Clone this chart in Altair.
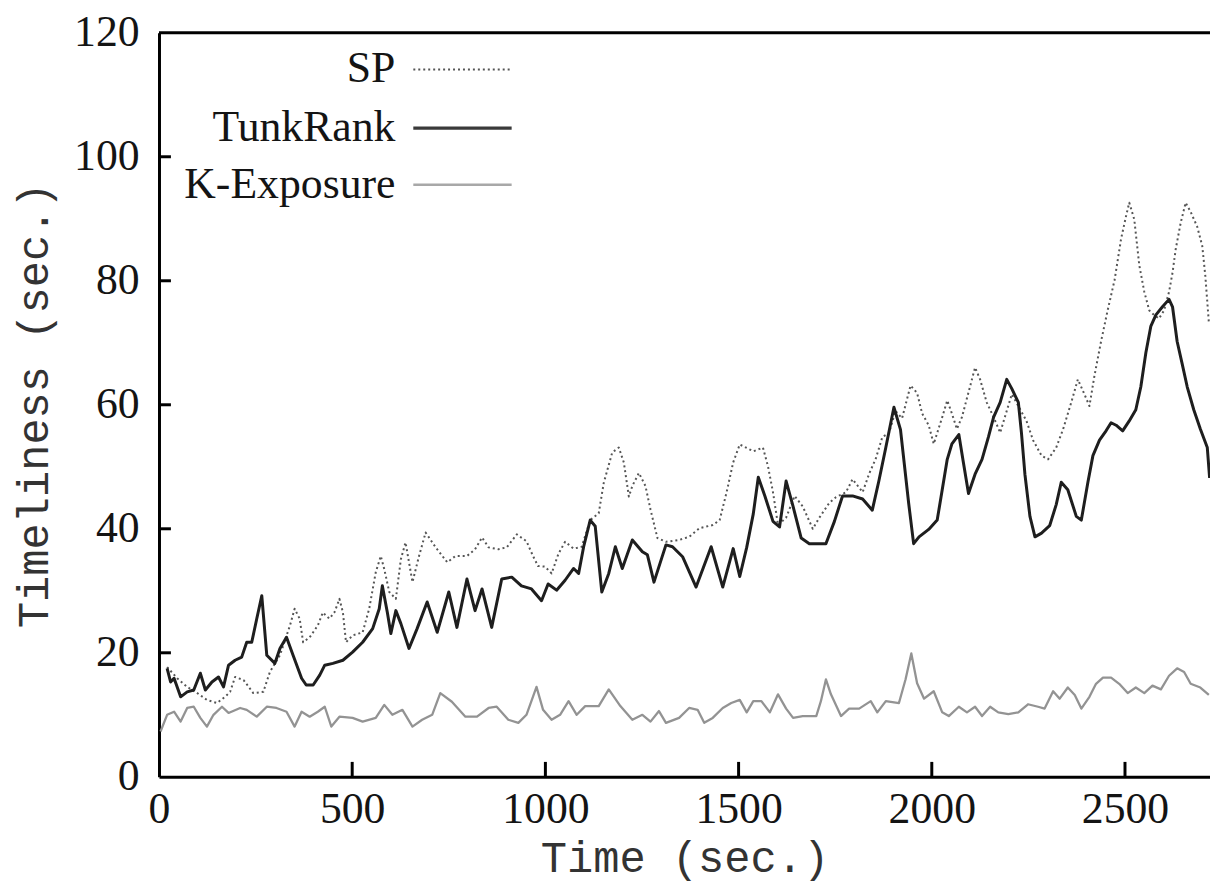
import altair as alt
import pandas as pd

# ---------------- data ----------------
series_names = ["SP", "TunkRank", "K-Exposure"]
x_ticks = [0, 500, 1000, 1500, 2000, 2500]
y_ticks = [0, 20, 40, 60, 80, 100, 120]

tunk_t = [21, 30, 39, 56, 73, 90, 107, 120, 137, 154, 167, 180, 197, 214, 227, 240, 253, 266, 279, 300,
          313, 330, 347, 369, 381, 399, 416, 429, 450, 476, 501, 527, 553, 570, 578, 591, 600, 613, 626, 647,
          668, 694, 720, 750, 771, 797, 818, 836, 861, 887, 913, 938, 964, 990, 1007, 1029, 1051, 1073, 1086, 1099,
          1116, 1129, 1146, 1164, 1181, 1199, 1225, 1251, 1264, 1281, 1312, 1329, 1355, 1390, 1429, 1459, 1486, 1503, 1521, 1538,
          1551, 1568, 1589, 1606, 1623, 1641, 1662, 1683, 1726, 1748, 1769, 1795, 1821, 1846, 1863, 1881, 1902, 1919, 1940, 1953,
          1967, 1992, 2014, 2027, 2040, 2052, 2070, 2082, 2095, 2112, 2130, 2147, 2160, 2177, 2194, 2207, 2224, 2232, 2241, 2254,
          2267, 2284, 2305, 2322, 2335, 2352, 2374, 2387, 2404, 2417, 2434, 2451, 2464, 2477, 2494, 2511, 2528, 2541, 2554, 2567,
          2580, 2597, 2614, 2623, 2635, 2648, 2661, 2678, 2695, 2713, 2719]
tunk_v = [17.5, 15.3, 15.9, 12.9, 13.7, 14.0, 16.7, 14.0, 15.3, 16.1, 14.5, 18.0, 18.8, 19.3, 21.7, 21.7, 25.5, 29.2, 19.6, 18.3,
          20.7, 22.5, 19.6, 15.9, 14.8, 14.8, 16.4, 18.0, 18.3, 18.8, 20.1, 21.7, 23.9, 27.1, 30.8, 26.5, 23.1, 26.8, 24.7, 20.7,
          23.9, 28.2, 23.3, 29.8, 24.1, 31.9, 26.8, 30.3, 24.1, 31.9, 32.2, 30.8, 30.3, 28.4, 31.1, 30.1, 31.7, 33.6, 32.8, 37.1,
          41.4, 40.4, 29.8, 32.8, 37.1, 33.6, 38.2, 36.3, 35.8, 31.4, 37.4, 37.1, 35.5, 30.6, 37.1, 30.6, 36.8, 32.3, 37.0, 42.4,
          48.3, 45.3, 41.2, 40.3, 47.7, 43.6, 38.5, 37.6, 37.6, 41.2, 45.3, 45.3, 44.8, 43.0, 47.7, 53.1, 59.6, 56.0, 44.2, 37.6,
          38.7, 39.9, 41.4, 46.3, 51.2, 53.7, 55.2, 50.6, 45.7, 48.8, 51.2, 54.9, 58.0, 60.4, 64.1, 62.6, 60.4, 55.5, 48.8, 42.0,
          38.7, 39.3, 40.5, 43.9, 47.5, 46.3, 42.0, 41.4, 47.5, 51.8, 54.3, 55.8, 57.1, 56.7, 55.8, 57.4, 59.2, 62.9, 68.4, 72.7,
          74.5, 75.8, 77.0, 75.8, 70.2, 66.6, 62.9, 59.2, 56.1, 53.1, 48.2]

sp_t = [21, 47, 73, 99, 124, 150, 171, 184, 197, 219, 244, 270, 287, 313, 339, 351, 364, 373, 390, 411,
        424, 441, 454, 467, 476, 484, 501, 527, 544, 561, 574, 583, 596, 613, 626, 638, 647, 656, 673, 690,
        716, 746, 767, 797, 818, 836, 853, 878, 900, 926, 951, 968, 981, 999, 1016, 1034, 1051, 1073, 1094, 1116,
        1138, 1151, 1173, 1190, 1203, 1216, 1225, 1242, 1259, 1272, 1290, 1312, 1346, 1372, 1399, 1433, 1451, 1469, 1486, 1503,
        1538, 1563, 1576, 1589, 1602, 1623, 1645, 1666, 1679, 1692, 1709, 1735, 1752, 1778, 1795, 1821, 1838, 1855, 1872, 1889,
        1906, 1923, 1945, 1962, 1975, 1992, 2005, 2027, 2040, 2052, 2065, 2078, 2095, 2112, 2125, 2142, 2160, 2177, 2189, 2207,
        2224, 2245, 2262, 2284, 2301, 2322, 2340, 2361, 2378, 2395, 2408, 2421, 2438, 2455, 2473, 2490, 2503, 2511, 2524, 2537,
        2550, 2563, 2575, 2588, 2601, 2614, 2623, 2631, 2644, 2657, 2670, 2687, 2700, 2708, 2717]
sp_v = [17.7, 15.9, 14.5, 13.5, 12.4, 11.9, 12.9, 13.7, 16.1, 15.6, 13.5, 13.7, 16.9, 19.6, 24.4, 27.1, 25.5, 21.7, 22.5, 24.4,
        26.5, 25.5, 26.5, 28.7, 26.5, 21.7, 22.8, 23.3, 27.1, 33.0, 35.6, 33.5, 29.8, 28.7, 35.1, 37.8, 34.6, 31.4, 35.6, 39.4,
        37.0, 34.6, 35.6, 35.6, 36.7, 38.6, 37.0, 36.7, 37.0, 39.1, 38.0, 35.6, 34.0, 33.9, 32.8, 36.0, 37.9, 36.8, 37.1, 41.4,
        42.5, 47.4, 52.3, 53.1, 50.7, 45.2, 46.9, 49.0, 46.9, 43.1, 38.5, 37.9, 38.2, 38.7, 40.1, 40.6, 41.4, 45.9, 50.7, 53.6,
        52.5, 53.1, 50.1, 45.9, 40.6, 41.8, 45.3, 43.6, 41.8, 40.0, 41.8, 44.2, 45.1, 45.9, 48.0, 45.9, 48.9, 51.3, 54.8, 55.4,
        59.0, 57.8, 63.1, 61.9, 58.6, 56.7, 53.7, 58.0, 60.7, 58.6, 56.1, 58.0, 62.0, 66.0, 64.1, 60.4, 58.0, 55.5, 58.0, 61.7,
        59.8, 57.4, 54.3, 51.8, 51.2, 53.1, 56.1, 60.4, 64.1, 61.7, 59.8, 64.7, 70.2, 75.2, 80.1, 86.8, 90.5, 92.6, 89.9, 82.5,
        78.2, 75.2, 74.5, 73.9, 75.2, 78.2, 81.3, 85.0, 89.3, 92.6, 91.1, 88.7, 85.6, 80.7, 73.3]

kexp_t = [4, 21, 39, 56, 73, 90, 107, 124, 141, 163, 180, 210, 227, 253, 279, 304, 330, 351, 369, 390,
          411, 429, 446, 467, 501, 527, 561, 583, 604, 630, 656, 681, 707, 728, 758, 793, 823, 853, 874, 904,
          930, 951, 977, 994, 1016, 1038, 1060, 1081, 1103, 1138, 1164, 1194, 1225, 1251, 1272, 1294, 1312, 1346, 1372, 1394,
          1411, 1433, 1459, 1481, 1503, 1521, 1538, 1559, 1581, 1602, 1623, 1641, 1666, 1701, 1713, 1726, 1739, 1765, 1786, 1812,
          1842, 1859, 1881, 1915, 1932, 1947, 1962, 1980, 2005, 2027, 2044, 2070, 2091, 2112, 2130, 2151, 2172, 2198, 2224, 2249,
          2275, 2292, 2314, 2331, 2352, 2370, 2387, 2408, 2425, 2443, 2464, 2485, 2507, 2528, 2550, 2571, 2593, 2614, 2635, 2653,
          2670, 2695, 2717]
kexp_v = [7.3, 10.0, 10.5, 8.9, 11.1, 11.3, 9.5, 8.1, 10.0, 11.3, 10.3, 11.1, 10.8, 9.7, 11.3, 11.1, 10.5, 8.1, 10.5, 9.7,
          10.5, 11.3, 8.1, 9.7, 9.5, 8.9, 9.5, 11.6, 10.0, 10.8, 8.1, 9.2, 10.0, 13.5, 12.1, 9.7, 9.7, 11.1, 11.3, 9.2,
          8.7, 10.0, 14.5, 10.8, 9.2, 10.0, 12.2, 10.0, 11.4, 11.4, 14.1, 11.4, 9.2, 10.0, 8.9, 10.6, 8.7, 9.5, 11.1, 10.8,
          8.7, 9.5, 11.1, 11.9, 12.4, 10.4, 12.2, 12.2, 10.4, 13.3, 11.0, 9.5, 9.8, 9.8, 12.2, 15.7, 13.3, 9.8, 11.0, 11.0,
          12.2, 10.4, 12.2, 11.9, 15.7, 19.9, 15.1, 12.6, 13.8, 10.4, 9.8, 11.3, 10.4, 11.3, 9.8, 11.3, 10.4, 10.1, 10.4, 11.7,
          11.3, 11.0, 13.8, 12.6, 14.4, 13.2, 11.0, 12.9, 15.0, 16.0, 16.0, 15.0, 13.5, 14.4, 13.5, 14.7, 14.1, 16.3, 17.5, 16.9,
          15.0, 14.4, 13.2]

# ---------------- layout / style ----------------
W, H = 1058, 749
XMAX = 2720
SERIF = "Liberation Serif"
MONO = "Liberation Mono"
TXT = "#141414"
TITLE_COL = "#333333"

def frame(name, ts, vs):
    return pd.DataFrame({"series": name, "t": ts, "v": vs})

df_sp = frame("SP", sp_t, sp_v)
df_tr = frame("TunkRank", tunk_t, tunk_v)
df_ke = frame("K-Exposure", kexp_t, kexp_v)

x_scale = alt.Scale(domain=[0, XMAX], nice=False, zero=False)
y_scale = alt.Scale(domain=[0, 120], nice=False)

x_axis = alt.Axis(values=x_ticks, format="d", title="Time (sec.)", grid=False, ticks=False, tickSize=0,
                  labelFont=SERIF, labelFontSize=44, labelColor=TXT, labelPadding=11, labelFlush=False,
                  titleFont=MONO, titleFontSize=44, titleFontWeight="normal", titleColor=TITLE_COL,
                  titleY=95, titleBaseline="alphabetic",
                  domainColor="black", domainWidth=3)
y_axis = alt.Axis(values=y_ticks, format="d", title="Timeliness (sec.)", grid=False, ticks=False, tickSize=0,
                  labelFont=SERIF, labelFontSize=44, labelColor=TXT, labelPadding=20, labelFlush=False,
                  titleFont=MONO, titleFontSize=44, titleFontWeight="normal", titleColor=TITLE_COL,
                  titleAngle=270, titleX=-112, titleY=H / 2, titleBaseline="alphabetic", titleAlign="center",
                  domainColor="black", domainWidth=3)

X_T = alt.X("t:Q", scale=x_scale, axis=x_axis)
Y_V = alt.Y("v:Q", scale=y_scale, axis=y_axis)

def line(df, color, width, dash=None):
    kw = dict(color=color, strokeWidth=width, clip=True, strokeJoin="round")
    if dash:
        kw["strokeDash"] = dash
    return alt.Chart(df).mark_line(**kw).encode(x=X_T, y=Y_V)

SP_COL, TR_COL, KE_COL = "#555555", "#1e1e1e", "#939393"

ke_line = line(df_ke, KE_COL, 2.3)
sp_line = line(df_sp, SP_COL, 2.0, dash=[2, 3])
tr_line = line(df_tr, TR_COL, 3.0)

# inward tick marks
ytick_df = pd.DataFrame({"v": y_ticks[1:-1]})
xtick_df = pd.DataFrame({"t": x_ticks[1:]})
yticks = alt.Chart(ytick_df).mark_rule(color="black", strokeWidth=3).encode(
    y=Y_V, x=alt.value(0), x2=alt.value(12))
xticks = alt.Chart(xtick_df).mark_rule(color="black", strokeWidth=3).encode(
    x=X_T, y=alt.value(H), y2=alt.value(H - 15))

# top border
top_border = alt.Chart(pd.DataFrame({"a": [0]})).mark_rule(color="black", strokeWidth=3).encode(
    x=alt.value(0), x2=alt.value(W), y=alt.value(0))

# legend (label left, sample right, like gnuplot)
leg_rows = [37, 96, 153]
leg_styles = [(SP_COL, 2.0, [2, 3]), ("#3a3a3a", 3.4, None), ("#a8a8a8", 2.6, None)]
legend_layers = []
for name, yy, (col, sw, dash) in zip(series_names, leg_rows, leg_styles):
    ldf = pd.DataFrame({"series": [name]})
    legend_layers.append(
        alt.Chart(ldf).mark_text(font=SERIF, fontSize=44, color=TXT, align="right", baseline="middle").encode(
            text="series:N", x=alt.value(238), y=alt.value(yy)))
    kw = dict(color=col, strokeWidth=sw)
    if dash:
        kw["strokeDash"] = dash
    legend_layers.append(
        alt.Chart(ldf).mark_rule(**kw).encode(x=alt.value(256), x2=alt.value(355), y=alt.value(yy)))

chart = alt.layer(ke_line, sp_line, tr_line, yticks, xticks, top_border, *legend_layers).properties(
    width=W, height=H,
    autosize=alt.AutoSizeParams(type="none"),
    padding={"left": 152, "top": 22, "right": 0, "bottom": 106},
    background="white",
).configure_view(stroke=None)

chart.save("out.html", embed_options={"renderer": "svg", "actions": False})
